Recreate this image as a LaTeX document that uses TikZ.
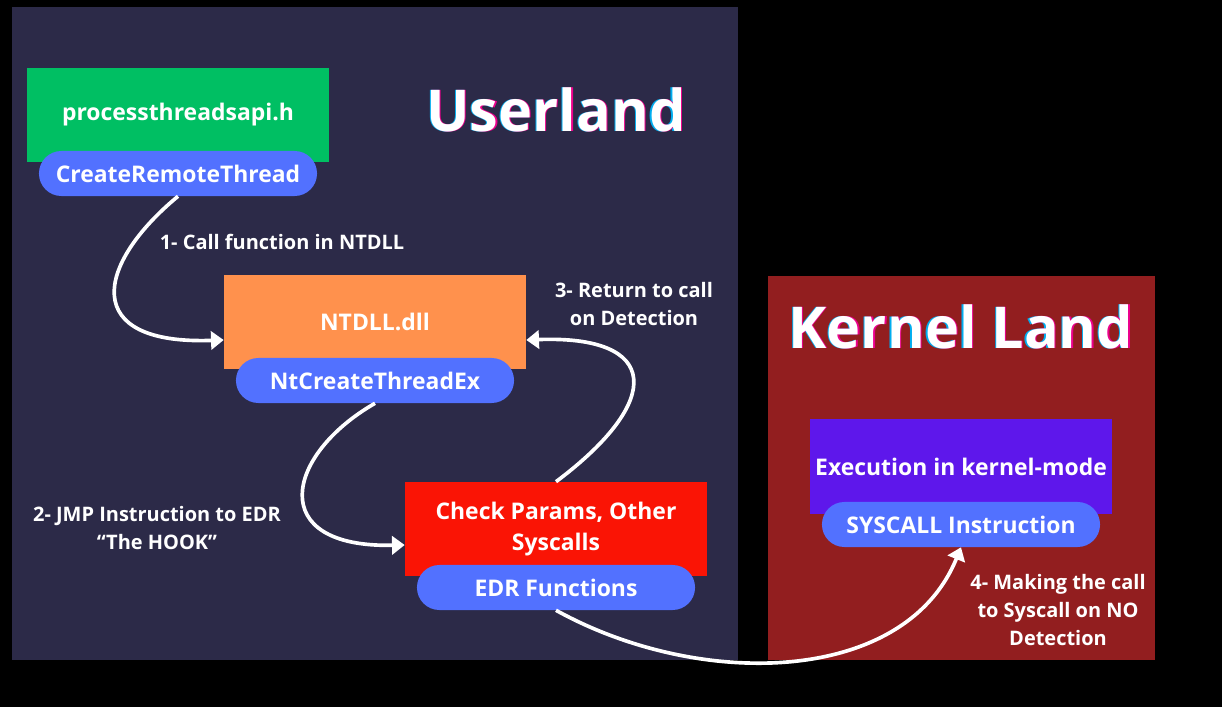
\documentclass[tikz,border=0pt]{standalone}
\usepackage{fontspec}
\setmainfont{Open Sans}
\usepackage{tikz}
\usetikzlibrary{arrows.meta}
\definecolor{pagebg}{RGB}{0,0,0}
\definecolor{userbg}{RGB}{44,42,72}
\definecolor{kernelbg}{RGB}{146,30,31}
\definecolor{apigreen}{RGB}{0,191,99}
\definecolor{dllorange}{RGB}{255,145,77}
\definecolor{edrred}{RGB}{250,20,5}
\definecolor{kernpurple}{RGB}{94,23,235}
\definecolor{fnblue}{RGB}{82,113,255}
\newcommand{\glitchtitle}[1]{\makebox[0pt][l]{\hspace{-0.9pt}\textcolor{cyan}{#1}}\makebox[0pt][l]{\hspace{0.9pt}\textcolor{magenta}{#1}}#1}

\begin{document}
\begin{tikzpicture}[x=0.025cm, y=-0.025cm,
  lib/.style={rectangle, minimum width=7.55cm, minimum height=2.35cm, inner sep=0pt,
              text=white, font=\fontsize{16.3}{22}\selectfont\bfseries, align=center},
  fn/.style={rectangle, rounded corners=0.56cm, fill=fnblue, minimum width=6.95cm,
             minimum height=1.125cm, inner sep=0pt, text=white,
             font=\fontsize{16.3}{20}\selectfont\bfseries},
  note/.style={text=white, font=\fontsize{14.2}{19.7}\selectfont\bfseries, align=center, inner sep=0pt},
  title/.style={text=white, font=\fontsize{41}{48}\selectfont\bfseries, inner sep=0pt},
  flow/.style={-{Triangle[length=9pt,width=13pt]}, white, line width=2.6pt},
]
% --- panels ---
\fill[pagebg] (0,0) rectangle (1222,707);
\fill[userbg] (12,7) rectangle (738,660);
\fill[kernelbg] (768,276) rectangle (1155,660);
\node[title] (userland) at (556,110) {\glitchtitle{Userland}};
\node[title] (kernland) at (961,327) {\glitchtitle{Kernel Land}};

% --- userland boxes ---
\node[lib, fill=apigreen] (proc) at (178,115) {processthreadsapi.h};
\node[fn] (crt) at (178,173.5) {CreateRemoteThread};
\node[lib, fill=dllorange] (ntdll) at (375,322) {NTDLL.dll};
\node[fn] (ntce) at (375,380.5) {NtCreateThreadEx};
\node[lib, fill=edrred] (chk) at (556,529) {Check Params, Other\\Syscalls};
\node[fn] (edrf) at (556,587.5) {EDR Functions};

% --- kernel boxes ---
\node[lib, fill=kernpurple] (exec) at (961,466.5) {Execution in kernel-mode};
\node[fn] (sys) at (961,524.5) {SYSCALL Instruction};

% --- flow ---
\draw[flow] (crt.south) .. controls (95,265) and (80,345) .. ([yshift=-0.45cm]ntdll.west);
\node[note] (n1) at (282,242) {1- Call function in NTDLL};
\draw[flow] (ntce.south) .. controls (285,455) and (265,548) .. ([yshift=-0.4cm]chk.west);
\node[note] (n2) at (157,528) {2- JMP Instruction to EDR\\``The HOOK''};
\draw[flow] (chk.north) .. controls (665,400) and (660,335) .. ([yshift=-0.45cm]ntdll.east);
\node[note] (n3) at (634,304) {3- Return to call\\on Detection};
\draw[flow] (edrf.south) .. controls (700,690) and (905,685) .. (sys.south);
\node[note] (n4) at (1058,610) {4- Making the call\\to Syscall on NO\\Detection};
\end{tikzpicture}
\end{document}
